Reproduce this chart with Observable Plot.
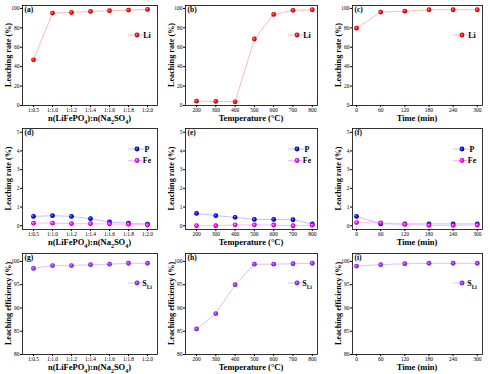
<!DOCTYPE html>
<html><head><meta charset="utf-8">
<script src="https://cdn.jsdelivr.net/npm/d3@7"></script>
<script src="https://cdn.jsdelivr.net/npm/@observablehq/plot@0.6"></script>
<style>
body{margin:0;background:#fff;}
#wrap{position:relative;width:490px;height:374px;overflow:hidden;background:#fff;}
</style></head><body>
<svg width="0" height="0" style="position:absolute">
<defs>
 <radialGradient id="gLi" cx="0.5" cy="0.5" r="0.5" fx="0.35" fy="0.35"><stop offset="0" stop-color="#ffb0b0"/><stop offset="0.55" stop-color="#ff0000"/><stop offset="1" stop-color="#c00000"/></radialGradient>
 <radialGradient id="gP" cx="0.5" cy="0.5" r="0.5" fx="0.35" fy="0.35"><stop offset="0" stop-color="#a0a0ff"/><stop offset="0.55" stop-color="#0000ff"/><stop offset="1" stop-color="#0000a0"/></radialGradient>
 <radialGradient id="gFe" cx="0.5" cy="0.5" r="0.5" fx="0.35" fy="0.35"><stop offset="0" stop-color="#ffc0ff"/><stop offset="0.55" stop-color="#ff00ff"/><stop offset="1" stop-color="#b000b0"/></radialGradient>
 <radialGradient id="gS" cx="0.5" cy="0.5" r="0.5" fx="0.35" fy="0.35"><stop offset="0" stop-color="#d0a0ff"/><stop offset="0.55" stop-color="#9933ff"/><stop offset="1" stop-color="#6a10c0"/></radialGradient>
</defs></svg>
<div id="wrap"></div>
<script>
// ---- data ----
const ratios = ["1:0.5","1:1.0","1:1.2","1:1.4","1:1.6","1:1.8","1:2.0"];
const temps = [200,300,400,500,600,700,800];
const times = [0,60,120,180,240,300];
const liRatio = [47,95.2,95.8,96.9,97.6,98.3,99];
const liTemp = [4.5,4.2,3.8,68.5,93.8,98,98.6];
const liTime = [79.6,96.2,97.2,98.6,98.6,98.6];
const pRatio = [0.5,0.54,0.5,0.38,0.2,0.14,0.09];
const feRatio = [0.14,0.14,0.11,0.11,0.1,0.08,0.04];
const pTemp = [0.66,0.54,0.45,0.34,0.34,0.32,0.1];
const feTemp = [0,0,0.05,0.05,0.04,0,0.03];
const pTime = [0.5,0.1,0.1,0.1,0.1,0.1];
const feTime = [0.17,0.15,0.07,0.02,0.02,0.04];
const sRatio = [98.5,99.1,99.1,99.3,99.4,99.6,99.6];
const sTemp = [85.5,88.8,95,99.4,99.4,99.5,99.6];
const sTime = [99,99.3,99.5,99.6,99.6,99.6];
const yTicksRow1 = [0,20,40,60,80,100];
const yTicksRow2 = [0,1,2,3,4,5];
const yTicksRow3 = [80,85,90,95,100];
const xLabels = [
  [["n(LiFePO"],["4","sub"],["):n(Na"],["2","sub"],["SO"],["4","sub"],[")"]],
  [["Temperature (°C)"]],
  [["Time (min)"]]
];
const yLabels = ["Leaching rate (%)","Leaching rate (%)","Leaching efficiency (%)"];
const tags = ["(a)","(b)","(c)","(d)","(e)","(f)","(g)","(h)","(i)"];

// ---- layout ----
const colLeft = [0,163,330], colW = [162,159,157];
const rowTop = [2,125,250], rowH = [124,126,124], rowMB = [21,22,20];
const FONT = "Liberation Serif, Times New Roman, serif";

const xCats = [ratios, temps, times];
const xScale = [
  {type:"point", domain: ratios, padding: 0.5},
  {type:"linear", domain:[143,827]},
  {type:"linear", domain:[-10,313]}
];
const yScale = [
  {domain:[0,103]},
  {domain:[-0.2,5.2]},
  {domain:[80,101.7]}
];
const yTicks = [yTicksRow1, yTicksRow2, yTicksRow3];

const series = {
  Li: {fill:"url(#gLi)", line:"#ff9c9c", label:[["Li"]]},
  P: {fill:"url(#gP)", line:"#a8a8ff", label:[["P"]]},
  Fe: {fill:"url(#gFe)", line:"#ffa0ff", label:[["Fe"]]},
  S: {fill:"url(#gS)", line:"#cca8ff", label:[["S"],["Li","sub"]]}
};

const panelSeries = [
  [["Li", liRatio]], [["Li", liTemp]], [["Li", liTime]],
  [["P", pRatio],["Fe", feRatio]], [["P", pTemp],["Fe", feTemp]], [["P", pTime],["Fe", feTime]],
  [["S", sRatio]], [["S", sTemp]], [["S", sTime]]
];

function addRich(textSel, parts, subSize) {
  parts.forEach(([t, kind]) => {
    const ts = textSel.append("tspan").text(t);
    if (kind === "sub") ts.attr("font-size", subSize).attr("baseline-shift", "sub");
  });
}

function labelsMark(xl, yl) {
  return (index, scales, values, dims) => {
    const g = d3.create("svg:g").attr("font-family", FONT).attr("font-weight", "bold").attr("fill", "black");
    const fl = dims.marginLeft, fr = dims.width - dims.marginRight;
    const ft = dims.marginTop, fb = dims.height - dims.marginBottom;
    const xt = g.append("text").attr("x", (fl+fr)/2).attr("y", fb + 15.5).attr("text-anchor","middle").attr("font-size", 8.5);
    addRich(xt, xl, 6);
    g.append("text").attr("transform", `translate(${fl-11},${(ft+fb)/2}) rotate(-90)`)
      .attr("text-anchor","middle").attr("font-size", 8.2).text(yl);
    return g.node();
  };
}

function legendMark(keys, startDy) {
  return (index, scales, values, dims) => {
    const g = d3.create("svg:g").attr("font-family", FONT).attr("font-weight", "bold");
    const fr = dims.width - dims.marginRight, ft = dims.marginTop;
    keys.forEach((k, i) => {
      const s = series[k];
      const y = ft + startDy + i*11.5;
      const cx = fr - 20;
      g.append("line").attr("x1", cx-9).attr("x2", cx+8).attr("y1", y).attr("y2", y).attr("stroke", s.line).attr("stroke-width", 0.7);
      g.append("circle").attr("cx", cx).attr("cy", y).attr("r", 2.4).attr("fill", s.fill);
      const t = g.append("text").attr("x", fr - 10).attr("y", y + 2.8).attr("font-size", 8);
      addRich(t, s.label, 5.5);
    });
    return g.node();
  };
}

const wrap = document.getElementById("wrap");
for (let row = 0; row < 3; row++) {
  for (let col = 0; col < 3; col++) {
    const idx = row*3 + col;
    const xs = xCats[col];
    const marks = [];
    const keys = [];
    panelSeries[idx].forEach(([k, vals]) => {
      keys.push(k);
      const data = xs.map((x, i) => ({x, y: vals[i]}));
      marks.push(Plot.line(data, {x:"x", y:"y", stroke: series[k].line, strokeWidth: 0.7}));
    });
    panelSeries[idx].forEach(([k, vals]) => {
      const data = xs.map((x, i) => ({x, y: vals[i]}));
      marks.push(Plot.dot(data, {x:"x", y:"y", r: 2.4, fill: series[k].fill, stroke: "none"}));
    });
    const plot = Plot.plot({
      width: colW[col], height: rowH[row],
      marginLeft: 22, marginRight: 5, marginTop: 3, marginBottom: rowMB[row],
      style: {fontFamily: FONT, background: "transparent", overflow: "visible"},
      x: {...xScale[col]},
      y: {...yScale[row]},
      marks: [
        Plot.axisX({ticks: col === 0 ? ratios : xs, tickSize: 2, tickPadding: 1, fontSize: 5.5, label: null, tickFormat: col === 0 ? d => d : d3.format("d")}),
        Plot.axisY({ticks: yTicks[row], tickSize: 2, tickPadding: 1, fontSize: 5.5, label: null, tickFormat: d3.format("d")}),
        ...marks,
        Plot.frame({stroke: "black", strokeWidth: 0.8}),
        Plot.text([tags[idx]], {frameAnchor: "top-left", text: d => d, dx: 2, dy: 1.5, textAnchor: "start", lineAnchor: "top", fontWeight: "bold", fontSize: 7.5}),
        legendMark(keys, row === 1 ? 21 : 30),
        labelsMark(xLabels[col], yLabels[row])
      ]
    });
    plot.style.position = "absolute";
    plot.style.left = colLeft[col] + "px";
    plot.style.top = rowTop[row] + "px";
    wrap.appendChild(plot);
  }
}
</script>
</body></html>
